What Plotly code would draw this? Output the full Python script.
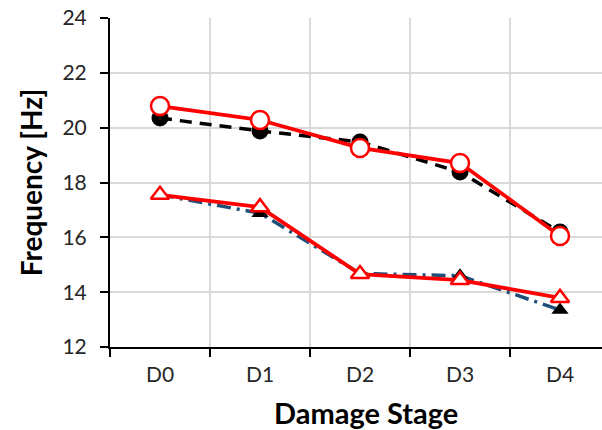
import plotly.graph_objects as go

# Damage stages and measured natural frequencies [Hz]
categories = ["D0", "D1", "D2", "D3", "D4"]
mode1_exp = [20.35, 19.88, 19.48, 18.38, 16.19]
mode1_num = [20.79, 20.28, 19.26, 18.71, 16.05]
mode2_exp = [17.55, 16.88, 14.68, 14.60, 13.35]
mode2_num = [17.55, 17.10, 14.66, 14.44, 13.79]

y_ticks = [12, 14, 16, 18, 20, 22, 24]

FONT = "Lato"
RED = "#FF0000"

fig = go.Figure()

# Experimental series (drawn underneath)
fig.add_trace(go.Scatter(
    x=categories, y=mode1_exp, mode="lines+markers",
    line=dict(color="black", width=3.5, dash="12px,8px"),
    marker=dict(symbol="circle", size=17, color="black"),
    showlegend=False,
))
fig.add_trace(go.Scatter(
    x=categories, y=mode2_exp, mode="lines+markers",
    line=dict(color="#1F4E79", width=3.5, dash="14px,6px,3px,6px"),
    marker=dict(symbol="triangle-up", size=15, color="black"),
    showlegend=False,
))
# Numerical series (on top)
fig.add_trace(go.Scatter(
    x=categories, y=mode1_num, mode="lines+markers",
    line=dict(color=RED, width=3.8),
    marker=dict(symbol="circle", size=18, color="white",
                line=dict(color=RED, width=2.5)),
    showlegend=False,
))
fig.add_trace(go.Scatter(
    x=categories, y=mode2_num, mode="lines+markers",
    line=dict(color=RED, width=3.8),
    marker=dict(symbol="triangle-up", size=16, color="white",
                line=dict(color=RED, width=2.5)),
    showlegend=False,
))

fig.update_layout(
    width=602, height=430,
    margin=dict(l=110, r=0, t=18, b=83),
    paper_bgcolor="white", plot_bgcolor="white",
    font=dict(family=FONT, color="#262626"),
    annotations=[dict(
        text="<b>Damage Stage</b>", xref="paper", yref="paper",
        x=0.52, y=0, xanchor="center", yanchor="top", yshift=-46,
        showarrow=False, font=dict(size=29, family=FONT, color="black"),
    )],
)

fig.update_xaxes(
    type="category", range=[-0.5, 4.42],
    tickson="boundaries", ticks="outside", ticklen=8, tickwidth=2, tickcolor="black",
    showline=True, linecolor="black", linewidth=2,
    showgrid=True, gridcolor="#D9D9D9", gridwidth=1.5,
    tickfont=dict(size=21, family=FONT, color="#262626"),
    ticklabelstandoff=8,
)
fig.update_yaxes(
    range=[12, 24], tickvals=y_ticks,
    ticks="outside", ticklen=8, tickwidth=2, tickcolor="black",
    showline=True, linecolor="black", linewidth=2,
    showgrid=True, gridcolor="#D9D9D9", gridwidth=1.5, zeroline=False,
    tickfont=dict(size=21, family=FONT, color="#262626"),
    ticklabelstandoff=9,
    title=dict(text="<b>Frequency [Hz]</b>", font=dict(size=28, family=FONT, color="black"), standoff=12),
)

fig.write_html("out.html")
